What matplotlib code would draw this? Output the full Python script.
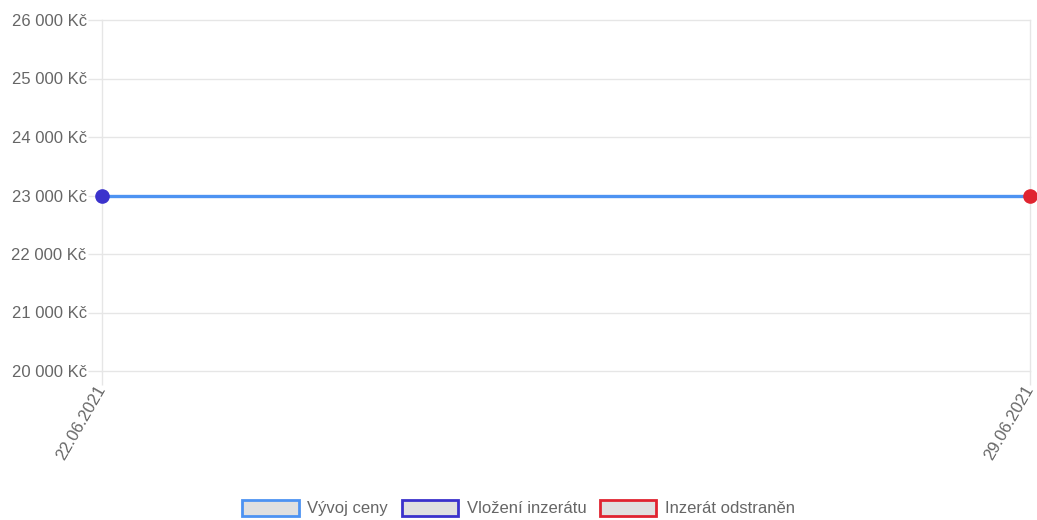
import matplotlib
matplotlib.use("Agg")
import matplotlib.pyplot as plt
from matplotlib.patches import Patch
from matplotlib.ticker import FuncFormatter, MultipleLocator

dates = ["22.06.2021", "29.06.2021"]
prices = [23000, 23000]
listed_idx = 0
listed_price = 23000
removed_idx = 1
removed_price = 23000
legend_labels = ["Vývoj ceny", "Vložení inzerátu", "Inzerát odstraněn"]
y_min, y_max, y_step = 20000, 26000, 1000

c_line = "#4d93f2"
c_listed = "#3b32cc"
c_removed = "#e02430"
grid_c = "#e6e6e6"
text_c = "#666666"

plt.rcParams["font.family"] = ["Liberation Sans", "DejaVu Sans"]

fig = plt.figure(figsize=(10.37, 5.2), dpi=100)
ax = fig.add_axes([102/1037, 1-371/520, (1030-102)/1037, (371-20)/520])

x = list(range(len(dates)))
ax.plot(x, prices, color=c_line, lw=2.4, zorder=3, solid_capstyle="butt")
ax.plot([x[listed_idx]], [listed_price], "o", color=c_listed, ms=9.5, zorder=4, clip_on=False)
ax.plot([x[removed_idx]], [removed_price], "o", color=c_removed, ms=9.5, zorder=4, clip_on=False)

ax.set_xlim(x[0], x[-1])
ax.set_ylim(y_min, y_max)
ax.yaxis.set_major_locator(MultipleLocator(y_step))
ax.yaxis.set_major_formatter(FuncFormatter(lambda v, p: f"{v:,.0f}".replace(",", " ") + " Kč"))
ax.set_xticks(x)
ax.set_xticklabels(dates, rotation=60, ha="right", va="center", rotation_mode="anchor")

ax.grid(True, color=grid_c, lw=1)
for gl in ax.get_xgridlines() + ax.get_ygridlines():
    gl.set_clip_on(False)
ax.set_axisbelow(True)
for s in ax.spines.values():
    s.set_visible(False)
ax.tick_params(axis="both", length=10, width=1, color=grid_c, labelcolor=text_c, labelsize=12)
ax.tick_params(axis="y", pad=1)
ax.tick_params(axis="x", pad=1)

handles = [Patch(facecolor="#e0e0e0", edgecolor=c, lw=2) for c in (c_line, c_listed, c_removed)]
fig.legend(handles, legend_labels, loc="center", bbox_to_anchor=(0.5, 1-508/520), ncol=3,
           frameon=False, fontsize=12, labelcolor=text_c, handlelength=3.4, handleheight=1.15,
           handletextpad=0.5, columnspacing=0.8)

fig.savefig("out.png", dpi=100, facecolor="white")
